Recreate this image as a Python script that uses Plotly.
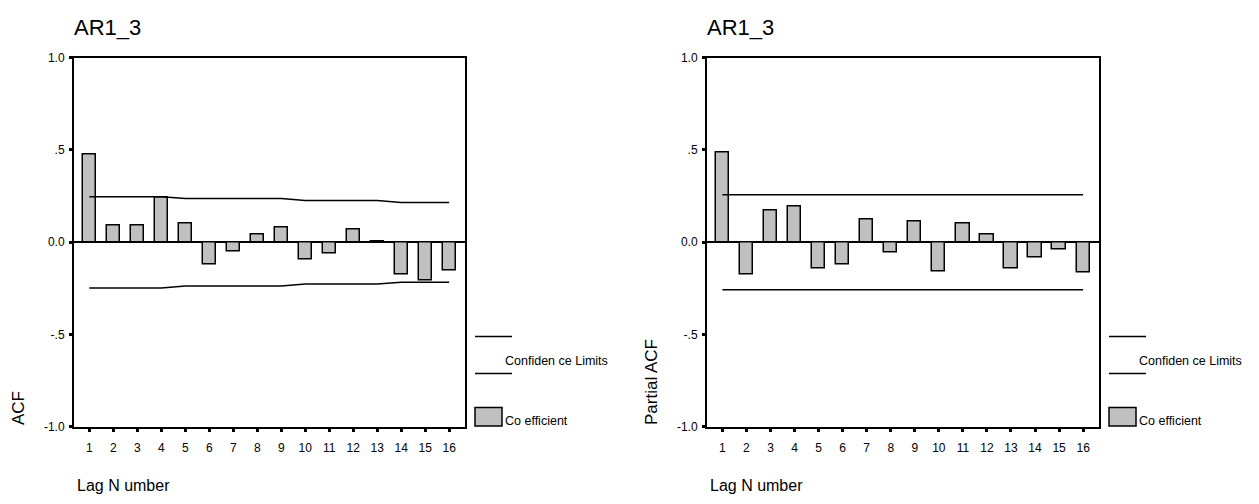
import plotly.graph_objects as go

# Autocorrelation results for series AR1_3
lags = list(range(1, 17))
acf_values = [0.474, 0.091, 0.091, 0.242, 0.104, -0.123, -0.051, 0.040,
              0.081, -0.093, -0.063, 0.070, 0.003, -0.174, -0.205, -0.153]
acf_limits = [0.247, 0.247, 0.247, 0.247, 0.237, 0.237, 0.237, 0.237,
              0.237, 0.226, 0.226, 0.226, 0.226, 0.216, 0.216, 0.216]

pacf_values = [0.484, -0.174, 0.172, 0.191, -0.144, -0.123, 0.121, -0.054,
               0.110, -0.156, 0.102, 0.040, -0.144, -0.084, -0.042, -0.165]
pacf_limits = [0.257] * 16

y_ticks = [1.0, 0.5, 0.0, -0.5, -1.0]
y_tick_text = ["1.0", ".5", "0.0", "-.5", "-1.0"]

series_name = "AR1_3"
x_title = "Lag N umber"
legend_limits = "Confiden ce Limits"
legend_coef = "Co efficient"

FONT = "Liberation Sans, Arial, sans-serif"
BAR_FILL = "#c0c0c0"

fig = go.Figure()

panels = [
    dict(x="x", y="y", vals=acf_values, lim=acf_limits, ylab="ACF",
         xdom=[74 / 1259, 465 / 1259]),
    dict(x="x2", y="y2", vals=pacf_values, lim=pacf_limits, ylab="Partial ACF",
         xdom=[707 / 1259, 1099 / 1259]),
]
ydom = [1 - 432 / 504, 1 - 52 / 504]

for i, p in enumerate(panels):
    fig.add_trace(go.Bar(x=lags, y=p["vals"], xaxis=p["x"], yaxis=p["y"],
                         width=0.55, marker=dict(color=BAR_FILL,
                         line=dict(color="black", width=1.5)),
                         showlegend=False))
    fig.add_trace(go.Scatter(x=lags, y=p["lim"], xaxis=p["x"], yaxis=p["y"],
                             mode="lines", line=dict(color="black", width=1.5),
                             showlegend=False, hoverinfo="skip"))
    fig.add_trace(go.Scatter(x=lags, y=[-v for v in p["lim"]], xaxis=p["x"],
                             yaxis=p["y"], mode="lines",
                             line=dict(color="black", width=1.5),
                             showlegend=False, hoverinfo="skip"))

    sfx = "" if i == 0 else "2"
    fig.update_layout(**{
        "xaxis" + sfx: dict(domain=p["xdom"], range=[0.36, 16.66],
                            tickmode="array", tickvals=lags,
                            ticktext=[str(v) for v in lags],
                            ticks="outside", ticklen=3, tickwidth=3,
                            tickcolor="black", showline=True, linecolor="black",
                            linewidth=2, mirror=True, showgrid=False,
                            zeroline=False, fixedrange=True,
                            ticklabelstandoff=6,
                            tickfont=dict(family=FONT, size=12, color="black"),
                            anchor="y" + sfx),
        "yaxis" + sfx: dict(domain=ydom, range=[-1, 1], tickmode="array",
                            tickvals=y_ticks, ticktext=y_tick_text,
                            ticks="outside", ticklen=3, tickwidth=3,
                            tickcolor="black", showline=True, linecolor="black",
                            linewidth=2, mirror=True, showgrid=False,
                            zeroline=True, zerolinecolor="black",
                            zerolinewidth=1.5, fixedrange=True,
                            ticklabelstandoff=2,
                            tickfont=dict(family=FONT, size=12, color="black"),
                            anchor="x" + sfx),
    })

    x0 = p["xdom"][0]
    x1 = p["xdom"][1]
    # title above the panel
    fig.add_annotation(text=series_name, xref="paper", yref="paper",
                       x=x0 - 2 / 1259, y=1 - 21 / 504, xanchor="left",
                       yanchor="middle", showarrow=False,
                       font=dict(family=FONT, size=22, color="black"))
    # y axis label, rotated, anchored at the bottom of the panel
    fig.add_annotation(text=p["ylab"], xref="paper", yref="paper",
                       x=(x0 * 1259 - 56) / 1259, y=ydom[0], textangle=-90,
                       xanchor="center", yanchor="bottom", showarrow=False,
                       font=dict(family=FONT, size=17, color="black"))
    # x axis label
    fig.add_annotation(text=x_title, xref="paper", yref="paper",
                       x=x0 + 1 / 1259, y=1 - 492 / 504, xanchor="left",
                       yanchor="middle", showarrow=False,
                       font=dict(family=FONT, size=16, color="black"))

    # legend: confidence limits lines and coefficient swatch
    lx0 = x1 + 10 / 1259
    lx1 = x1 + 47 / 1259
    for ly in (339, 377):
        fig.add_shape(type="line", xref="paper", yref="paper",
                      x0=lx0, x1=lx1, y0=1 - ly / 504, y1=1 - ly / 504,
                      line=dict(color="black", width=1.5))
    fig.add_annotation(text=legend_limits, xref="paper", yref="paper",
                       x=x1 + 38 / 1259, y=1 - 364 / 504, xanchor="left",
                       yanchor="middle", showarrow=False,
                       font=dict(family=FONT, size=12.5, color="black"))
    fig.add_shape(type="rect", xref="paper", yref="paper",
                  x0=lx0, x1=x1 + 37 / 1259, y0=1 - 431 / 504,
                  y1=1 - 412 / 504, fillcolor=BAR_FILL,
                  line=dict(color="black", width=1.5))
    fig.add_annotation(text=legend_coef, xref="paper", yref="paper",
                       x=x1 + 38 / 1259, y=1 - 426 / 504, xanchor="left",
                       yanchor="middle", showarrow=False,
                       font=dict(family=FONT, size=12.5, color="black"))

fig.update_layout(width=1259, height=504, margin=dict(l=0, r=0, t=0, b=0),
                  paper_bgcolor="white", plot_bgcolor="white", bargap=0,
                  showlegend=False)

fig.write_html("out.html")
